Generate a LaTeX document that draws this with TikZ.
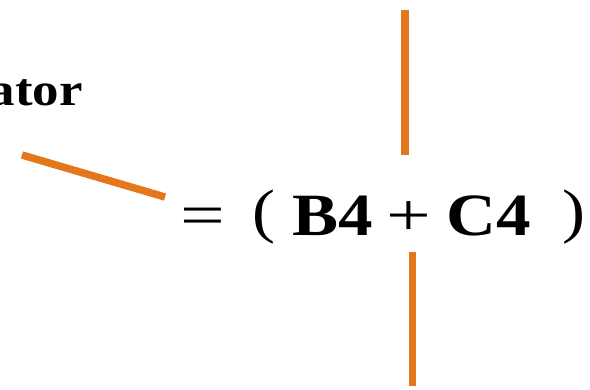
\documentclass[tikz,border=0pt]{standalone}
\usepackage{fontspec}
\setmainfont{Liberation Serif}[FakeStretch=1.15]
\usepackage{xcolor}
\usepackage{graphicx}
\usetikzlibrary{positioning}
\definecolor{lineorange}{RGB}{228,118,28}
\newcommand{\wideop}[1]{\scalebox{1.15}[1]{#1}}
\tikzset{
  mark line/.style={line width=7.5pt, draw=lineorange},
  label text/.style={font=\fontsize{46}{48}\selectfont\bfseries, inner sep=0pt, anchor=base east},
  formula/.style={font=\fontsize{60}{62}\selectfont, inner sep=0pt, anchor=base west}}

\begin{document}
\begin{tikzpicture}[x=1pt, y=-1pt]
  \useasboundingbox (0,0) rectangle (590,389);
  % label, cut at the left edge
  \node[label text] (opr) at (83,105) {ator};
  % formula
  \node[formula] (frm) at (180,235) {\wideop{=}\hspace{27.5pt}\raisebox{4pt}{(}\hspace{17.5pt}\textbf{B4}\hspace{13pt}\wideop{+}\hspace{15pt}\textbf{C4}\hspace{31.5pt}\raisebox{4pt}{)}};
  % pointer lines
  \coordinate (a1) at (22,155);
  \coordinate (a2) at (165,197);
  \coordinate (t1) at (405,10);
  \coordinate (t2) at (405,155);
  \coordinate (b1) at (412.5,252);
  \coordinate (b2) at (412.5,386);
  \draw[mark line] (a1) -- (a2);
  \draw[mark line] (t1) -- (t2);
  \draw[mark line] (b1) -- (b2);
\end{tikzpicture}
\end{document}
